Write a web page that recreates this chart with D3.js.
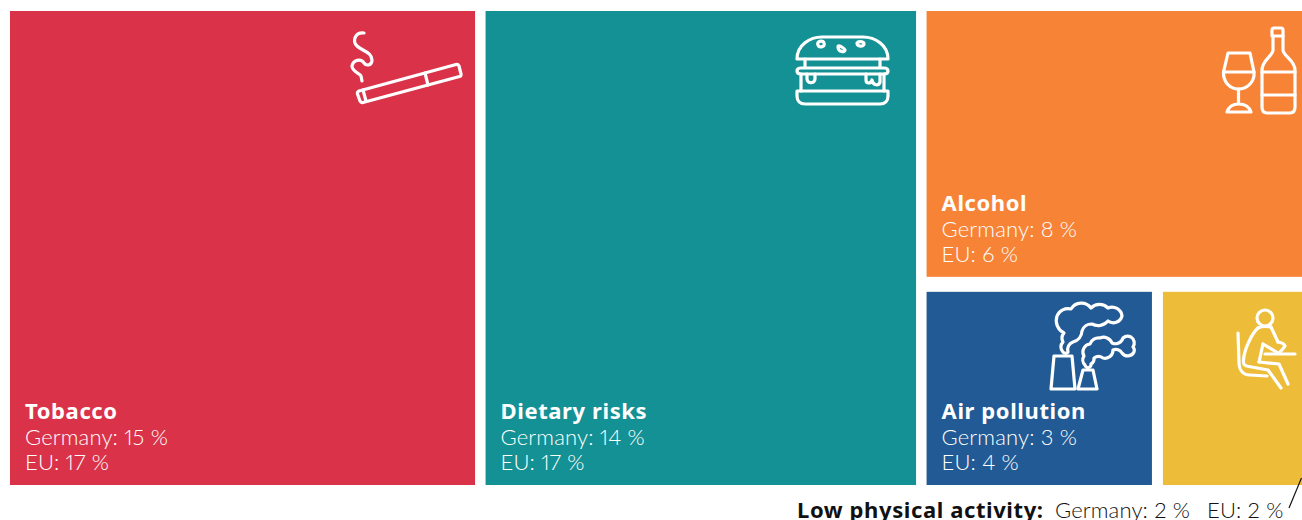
<!DOCTYPE html>
<html>
<head>
<meta charset="utf-8">
<script src="https://cdn.jsdelivr.net/npm/d3@7"></script>
<style>
  html, body { margin: 0; padding: 0; background: #fff; overflow: hidden; }
  svg { display: block; font-family: "Noto Sans", sans-serif; }
  .name { font-weight: 700; font-size: 22px; letter-spacing: 0.6px; }
  .val { font-family: Lato, sans-serif; font-weight: 300; font-size: 22px; letter-spacing: 0.15px; font-variant-numeric: proportional-nums; }
  .tile-text { fill: #fff; }
  .icon path, .icon circle { fill: none; stroke: #fff; stroke-width: 3.2; stroke-linecap: round; stroke-linejoin: round; }
</style>
</head>
<body>
<svg id="chart"></svg>
<script>
const width = 1302;
const height = 520;

const categories = ["Tobacco", "Dietary risks", "Alcohol", "Air pollution", "Low physical activity"];
const germany = [15, 14, 8, 3, 2];
const eu = [17, 17, 6, 4, 2];
// tile areas, the printed numbers are rounded
const tileArea = [15, 13.91, 7.19, 3.17, 2.16];
const colors = ["#da3349", "#149194", "#f78336", "#215a94", "#edbd3a"];

const svg = d3.select("#chart").attr("width", width).attr("height", height);

const tree = {
  children: [
    { i: 0 },
    { i: 1 },
    { children: [{ i: 2 }, { children: [{ i: 3 }, { i: 4 }] }] }
  ]
};

const root = d3.hierarchy(tree).sum(d => (d.i === undefined ? 0 : tileArea[d.i]));

// the right column is stacked, so its inner gap is the horizontal one
d3
  .treemap()
  .tile(d3.treemapSliceDice)
  .size([1303, 474])
  .paddingInner(d => (d.depth === 1 ? 15 : d.depth === 0 ? 10.5 : 11))(root);

const tiles = svg.append("g").attr("transform", "translate(10, 11)");

const tile = tiles
  .selectAll("g")
  .data(root.leaves())
  .enter()
  .append("g")
  .attr("transform", d => `translate(${d.x0}, ${d.y0})`);

tile
  .append("rect")
  .attr("width", d => d.x1 - d.x0)
  .attr("height", d => d.y1 - d.y0)
  .attr("fill", d => colors[d.data.i]);

const labelled = tile.filter(d => d.data.i !== 4);

labelled
  .append("text")
  .attr("class", "name tile-text")
  .attr("x", 15)
  .attr("y", d => d.y1 - d.y0 - 66)
  .text(d => categories[d.data.i]);

labelled
  .append("text")
  .attr("class", "val tile-text")
  .attr("x", 15)
  .attr("y", d => d.y1 - d.y0 - 40)
  .text(d => `Germany: ${germany[d.data.i]} %`);

labelled
  .append("text")
  .attr("class", "val tile-text")
  .attr("x", 15)
  .attr("y", d => d.y1 - d.y0 - 15)
  .text(d => `EU: ${eu[d.data.i]} %`);

// note for the tile that is too small for its text
const note = svg.append("text").attr("x", 797).attr("y", 518).attr("fill", "#111");
note
  .append("tspan")
  .attr("class", "name")
  .text(`${categories[4]}:`);
note
  .append("tspan")
  .attr("class", "val")
  .attr("x", 1055)
  .text(`Germany: ${germany[4]} %`);
note
  .append("tspan")
  .attr("class", "val")
  .attr("x", 1207)
  .text(`EU: ${eu[4]} %`);

svg
  .append("path")
  .attr("d", "M1301.5 478L1289 508")
  .attr("stroke", "#111")
  .attr("stroke-width", 1.2)
  .attr("fill", "none");

// icons, traced in page pixels
const iconPaths = [
  // cigarette
  "M359 91L456 64.500Q458 64 459 66L461 74Q461.500 76 459.500 76.500L363 102.500Q361 103 360 101L357.500 94Q357 92 359 91Z",
  "M363 90L366 101M425 73L428 85",
  "M364 33C355 32 352 41 357 46C362 51 372 52 372 60C372 66 366 66 364 63C361 58 353 60 352 66C352 72 360 73 361 76L362 81",
  // burger
  "M797 59C797 45 810 37 822 37H863C875 37 888 45 888 59Z",
  "M805 59V67M880 59V67",
  "M801 68H884Q888 68 888 71Q888 74 884 74H801Q797 74 797 71Q797 68 801 68Z",
  "M801 74V91M884 74V91",
  "M807 74V79C807 84 815 84 815 79V74M866 74V80C866 84 871 84 872 80C873 86 879 86 880 82V74",
  "M797 91H888V96C888 101 885 104 880 104H805C800 104 797 101 797 96Z",
  "M818 45C816 41 823 40 824 43C826 47 819 48 818 45ZM838 47C838 44 844 48 845 50C845 53 838 52 838 47ZM857 43C858 41 864 41 864 44C864 47 857 47 857 43Z",
  // wine glass and bottle
  "M1228 53H1250L1254 72C1255 82 1247 89 1238.500 89C1230 89 1223 82 1223.500 72Z",
  "M1224 72H1254M1238.500 89V104M1227 112C1229 106 1234 104 1238.500 104C1244 104 1249 106 1251 112Z",
  "M1272 36V30Q1272 28 1274 28H1281Q1283 28 1283 30V36Z",
  "M1273 36V50C1273 56 1262 60 1262 70V107C1262 111 1264 113 1267 113H1290C1293 113 1295 111 1295 107V70C1295 60 1283 56 1283 50V36",
  "M1262 72H1295M1262 95H1295",
  // factory and smoke
  "M1054 356H1072L1075 389H1051Z",
  "M1083 370H1093L1097 389H1078Z",
  "M1063 352A7 7 0 0 1 1063 342A8 8 0 0 1 1064 333A14 14 0 0 1 1057 316A12 12 0 0 1 1071 309A12 12 0 0 1 1091 308A12 12 0 0 1 1108 308A10 10 0 0 1 1122 316A9 9 0 0 1 1108 321A13 13 0 0 1 1092 324A10 10 0 0 0 1082 331A12 12 0 0 1 1073 342A8 8 0 0 0 1068 352A3 3 0 0 1 1063 352Z",
  "M1085 365A7 7 0 0 1 1084 356A8 8 0 0 1 1090 344A9 9 0 0 1 1100 338A9 9 0 0 1 1112 343A8 8 0 0 0 1123 338A7 7 0 0 1 1131 337A7 7 0 0 1 1133 347A5 5 0 0 1 1134 352A7 7 0 0 1 1122 353A7 7 0 0 0 1113 350A8 8 0 0 1 1103 358A8 8 0 0 0 1094 358A6 6 0 0 1 1091 364A3 3 0 0 1 1085 365Z",
  // person at a table
  "M1238 333L1239 362C1239 370 1243 375 1250 375L1267 376",
  "M1258 328C1252 333 1244 350 1243.500 360C1243 365 1245 366 1249 366.500L1268 370L1281 388",
  "M1271 327C1265 326 1262 326 1258 328",
  "M1271 327L1278 342",
  "M1263 344L1278 353Q1280 353 1285 346Q1284 343 1278 342",
  "M1259 362L1263 344",
  "M1265 354H1295",
  "M1259 362L1279 364L1288 384",
];

const icons = svg.append("g").attr("class", "icon");

icons
  .selectAll("path")
  .data(iconPaths)
  .enter()
  .append("path")
  .attr("d", d => d);

icons.append("circle").attr("cx", 1265).attr("cy", 318).attr("r", 8);
</script>
</body>
</html>
